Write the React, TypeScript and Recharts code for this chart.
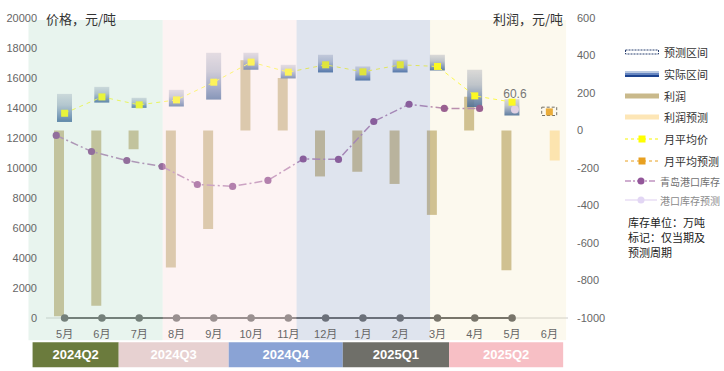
import React from 'react';
import { ComposedChart, Bar, Line, XAxis, YAxis, ReferenceArea, Cell, LabelList } from 'recharts';

// ---- data ----
const months = ['5月', '6月', '7月', '8月', '9月', '10月', '11月', '12月', '1月', '2月', '3月', '4月', '5月', '6月'];
const priceLow = [13070, 14360, 14010, 14100, 14560, 16550, 15970, 16370, 15830, 16370, 16500, 14060, 13500, 13500];
const priceHigh = [14940, 15410, 14680, 15210, 17680, 17680, 16880, 17550, 16770, 17220, 17550, 16550, 14590, 14055];
const isForecast = [false, false, false, false, false, false, false, false, false, false, false, false, false, true];
const avgPrice = [13650, 14740, 14210, 14540, 15720, 17060, 16390, 16880, 16410, 16880, 16770, 14810, 14390, null];
const avgForecast = [null, null, null, null, null, null, null, null, null, null, null, null, null, 13740];
const profit = [-990, -935, -100, -730, -525, 375, 280, -245, -220, -285, -450, 180, -745, null];
const profitForecast = [null, null, null, null, null, null, null, null, null, null, null, null, null, -160];
const inventory = [53.7, 49.4, 47.0, 45.4, 40.6, 40.1, 41.7, 47.4, 47.3, 57.4, 62.0, 60.9, 60.9, null];
const inventoryForecast = [null, null, null, null, null, null, null, null, null, null, null, null, null, 60.6];
const baseline = [0, 0, 0, 0, 0, 0, 0, 0, 0, 0, 0, 0, 0, null];
const leftTicks = [0, 2000, 4000, 6000, 8000, 10000, 12000, 14000, 16000, 18000, 20000];
const rightTicks = [-1000, -800, -600, -400, -200, 0, 200, 400, 600];
const quarters = ['2024Q2', '2024Q3', '2024Q4', '2025Q1', '2025Q2'];

// decorative band extents (in category units)
const bands = [
  { x1: -0.97, x2: 2.63, fill: '#b2dac6', op: 0.3 },
  { x1: 2.63, x2: 6.22, fill: '#fae1e1', op: 0.4 },
  { x1: 6.22, x2: 9.8, fill: '#94a5c6', op: 0.3 },
  { x1: 9.8, x2: 13.45, fill: '#f0e1ab', op: 0.2 },
];
const quarterBoxes = [
  { x1: -0.86, x2: 1.45, fill: '#6b7b3d' },
  { x1: 1.45, x2: 4.4, fill: '#e7d1d1' },
  { x1: 4.4, x2: 7.46, fill: '#8aa3d5' },
  { x1: 7.46, x2: 10.31, fill: '#6f6f69' },
  { x1: 10.31, x2: 13.37, fill: '#f7bfc5' },
];

const data = months.map((m, i) => ({
  m,
  idx: i,
  low: priceLow[i],
  high: priceHigh[i],
  fc: isForecast[i],
  avg: avgPrice[i],
  avgF: avgForecast[i],
  profit: profit[i],
  profitF: profitForecast[i],
  inv: inventory[i],
  invF: inventoryForecast[i],
  base: baseline[i],
}));

const FONT = '"Liberation Sans", Arial, "Noto Sans CJK SC", sans-serif';
const CJK = '"Noto Sans CJK SC", "Liberation Sans", sans-serif';

const squareDot = (color: string) => (p: any) => {
  const { cx, cy, index } = p;
  if (cx == null || cy == null || p.value == null) return <g key={'s' + index} />;
  return <rect key={'s' + index} x={cx - 3.5} y={cy - 3.5} width={7} height={7} fill={color} />;
};
const circleDot = (color: string, r: number) => (p: any) => {
  const { cx, cy, index } = p;
  if (cx == null || cy == null || p.value == null) return <g key={'c' + index} />;
  return <circle key={'c' + index} cx={cx} cy={cy} r={r} fill={color} />;
};

function LegendOverlay() {
  const rows = [52, 74, 96, 117, 139, 161, 181, 200];
  const labels = ['预测区间', '实际区间', '利润', '利润预测', '月平均价', '月平均预测', '青岛港口库存', '港口库存预测'];
  const txtColor = ['#333', '#333', '#333', '#333', '#333', '#333', '#707070', '#8a8a8a'];
  const txtSize = [11, 11, 11, 11, 11, 11, 10, 10];
  const txtX = [664, 664, 664, 664, 664, 664, 660, 660];
  return (
    <svg width={724} height={371} style={{ position: 'absolute', left: 0, top: 0, pointerEvents: 'none' }}>
      <text x={46} y={18} fontSize={13} fill="#333" dominantBaseline="central" fontFamily={CJK}>价格，元/吨</text>
      <text x={563} y={18} fontSize={13} fill="#333" dominantBaseline="central" textAnchor="end" fontFamily={CJK}>利润，元/吨</text>
      <rect x={625.5} y={50} width={33} height={4} fill="#fff" stroke="#2a4070" strokeDasharray="2 1" />
      <rect x={625} y={71} width={34} height={2} fill="#b8c8e2" />
      <rect x={625} y={73} width={34} height={2} fill="#6585c0" />
      <rect x={625} y={75} width={34} height={2} fill="#1c4390" />
      <rect x={625} y={93.5} width={34} height={5} fill="#c9b98b" />
      <rect x={625} y={114.5} width={34} height={5} fill="#fde6b6" />
      <line x1={625} x2={659} y1={139} y2={139} stroke="#f5f500" strokeDasharray="3 3" />
      <rect x={638.5} y={135.5} width={7} height={7} fill="#ffff00" />
      <line x1={625} x2={659} y1={161} y2={161} stroke="#e8a020" strokeDasharray="3 3" />
      <rect x={638.5} y={157.5} width={7} height={7} fill="#e8a020" />
      <line x1={625} x2={657} y1={181} y2={181} stroke="#cfaed0" strokeWidth={2} strokeDasharray="6 2 2 2" />
      <circle cx={641} cy={181} r={3.5} fill="#93579a" />
      <line x1={625} x2={657} y1={200} y2={200} stroke="#eee6f7" strokeWidth={2} />
      <circle cx={641} cy={200} r={3.5} fill="#e2d6f4" />
      {labels.map((l, i) => (
        <text key={l} x={txtX[i]} y={rows[i]} fontSize={txtSize[i]} fill={txtColor[i]} dominantBaseline="central" fontFamily={CJK}>{l}</text>
      ))}
      <text x={628} y={222} fontSize={11} fill="#222" dominantBaseline="central" fontFamily={CJK}>库存单位：万吨</text>
      <text x={628} y={237} fontSize={11} fill="#222" dominantBaseline="central" fontFamily={CJK}>标记：仅当期及</text>
      <text x={628} y={252} fontSize={11} fill="#222" dominantBaseline="central" fontFamily={CJK}>预测周期</text>
    </svg>
  );
}

export default function App() {
  return (
    <div style={{ position: 'absolute', left: 0, top: 0, width: 724, height: 371, background: '#fff', fontFamily: FONT }}>
      <ComposedChart
        width={724}
        height={371}
        data={data}
        margin={{ top: 18, right: 96, bottom: 33, left: 6 }}
        barGap={1}
      >
        <defs>
          <linearGradient id="ivGrad" x1="0" y1="0" x2="0" y2="1">
            <stop offset="0%" stopColor="#d0d3df" />
            <stop offset="40%" stopColor="#a9b5cc" />
            <stop offset="75%" stopColor="#5b7bb0" />
            <stop offset="100%" stopColor="#1f4f8f" />
          </linearGradient>
        </defs>
        <XAxis
          xAxisId="main"
          dataKey="m"
          interval={0}
          tickLine={false}
          tickSize={6}
          tickMargin={6}
          axisLine={{ stroke: '#cccccc' }}
          tick={{ fill: '#666', fontSize: 11 }}
          height={20}
        />
        <XAxis xAxisId="iv" dataKey="m" hide height={0} />
        <XAxis xAxisId="bg" type="number" dataKey="idx" domain={[-0.5, 13.5]} allowDataOverflow hide height={0} />
        <XAxis xAxisId="inv" type="number" dataKey="idx" domain={[-0.29, 14.505]} allowDataOverflow hide height={0} />
        <YAxis
          yAxisId="left"
          domain={[0, 20000]}
          ticks={leftTicks}
          axisLine={false}
          tickLine={false}
          tickMargin={3}
          width={40}
          tick={{ fill: '#666', fontSize: 11 }}
        />
        <YAxis
          yAxisId="right"
          orientation="right"
          domain={[-1000, 600]}
          ticks={rightTicks}
          axisLine={false}
          tickLine={false}
          tickMargin={3}
          width={60}
          tick={{ fill: '#666', fontSize: 11, textAnchor: 'start' }}
        />
        <YAxis yAxisId="inv" domain={[5, 85]} hide width={0} />

        <Bar xAxisId="main" yAxisId="right" dataKey="profit" fill="#c9b98b" barSize={10} isAnimationActive={false} />
        <Bar xAxisId="main" yAxisId="right" dataKey="profitF" fill="#ffe5b1" barSize={10} isAnimationActive={false} />
        <Bar
          xAxisId="iv"
          yAxisId="left"
          dataKey={(d: any) => [d.low, d.high]}
          barSize={15}
          isAnimationActive={false}
        >
          {data.map((d, i) =>
            d.fc ? (
              <Cell key={i} fill="none" stroke="#555" strokeWidth={1} strokeDasharray="3 2" />
            ) : (
              <Cell key={i} fill="url(#ivGrad)" fillOpacity={0.88} />
            )
          )}
        </Bar>
        <Line
          xAxisId="main"
          yAxisId="left"
          dataKey="base"
          stroke="#5a5a5a"
          strokeWidth={2}
          dot={circleDot('#5a5a5a', 3.8)}
          activeDot={false}
          isAnimationActive={false}
          zIndex={600}
        />
        <Line
          xAxisId="inv"
          yAxisId="inv"
          dataKey="inv"
          stroke="#ad7bb0"
          strokeWidth={1.5}
          strokeDasharray="8 3 2 3"
          dot={circleDot('#84408a', 3.6)}
          activeDot={false}
          isAnimationActive={false}
        />
        <Line
          xAxisId="inv"
          yAxisId="inv"
          dataKey="invF"
          stroke="#dccbf0"
          strokeWidth={1}
          dot={circleDot('#ddcdf2', 4)}
          activeDot={false}
          isAnimationActive={false}
        >
          <LabelList dataKey="invF" position="top" offset={12} fill="#777" fontSize={12} />
        </Line>
        <Line
          xAxisId="iv"
          yAxisId="left"
          dataKey="avg"
          stroke="#ffff33"
          strokeWidth={1}
          strokeDasharray="4 4"
          dot={squareDot('#ffff00')}
          activeDot={false}
          isAnimationActive={false}
        />
        <Line
          xAxisId="iv"
          yAxisId="left"
          dataKey="avgF"
          stroke="#e8a020"
          strokeWidth={1}
          strokeDasharray="4 4"
          dot={squareDot('#e9a020')}
          activeDot={false}
          isAnimationActive={false}
        />

        {bands.map((b, i) => (
          <ReferenceArea
            key={'band' + i}
            xAxisId="bg"
            yAxisId="left"
            x1={b.x1}
            x2={b.x2}
            y1={-1490}
            y2={19866}
            fill={b.fill}
            fillOpacity={b.op}
            stroke="none"
            ifOverflow="visible"
            zIndex={1500}
          />
        ))}
        {quarterBoxes.map((q, i) => (
          <ReferenceArea
            key={'q' + i}
            xAxisId="bg"
            yAxisId="left"
            x1={q.x1}
            x2={q.x2}
            y1={-3290}
            y2={-1620}
            fill={q.fill}
            fillOpacity={1}
            stroke="none"
            ifOverflow="visible"
            zIndex={1600}
            label={{ value: quarters[i], position: 'center', fill: '#fff', fontSize: 13, fontWeight: 700 }}
          />
        ))}
      </ComposedChart>
      <LegendOverlay />
    </div>
  );
}
